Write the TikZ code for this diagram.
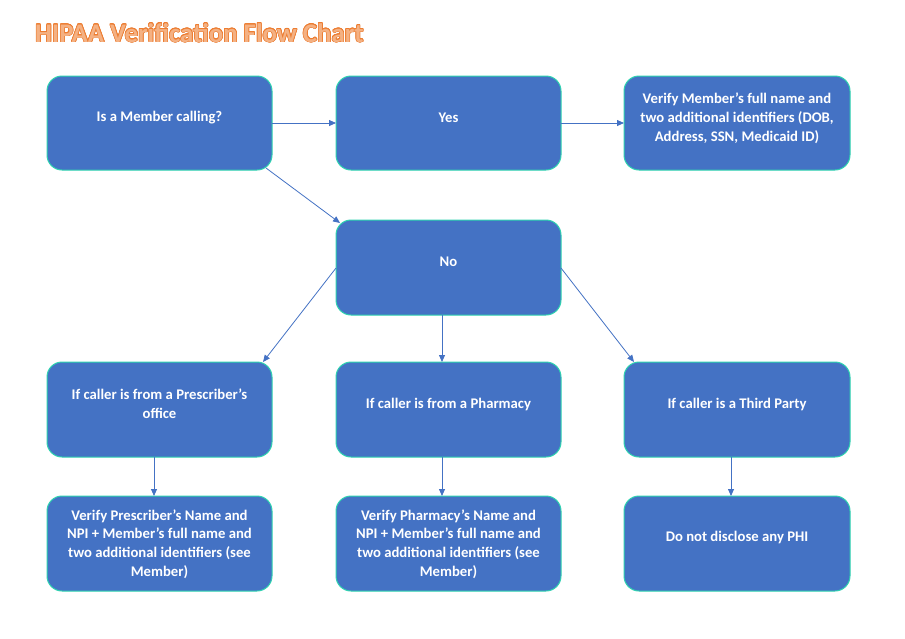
\documentclass[tikz,border=0pt]{standalone}
\usepackage{fontspec}
\setmainfont{Carlito}
\usepackage{contour}
\usetikzlibrary{arrows.meta}
\definecolor{boxblue}{HTML}{4472C4}
\definecolor{boxedge}{HTML}{2ED3B0}
\definecolor{ttlfill}{HTML}{F4B183}
\definecolor{ttledge}{HTML}{ED7D31}
\contourlength{0.6pt}
\begin{document}
\begin{tikzpicture}[x=1pt,y=-1pt,
  fbox/.style={draw=boxedge, line width=1pt, fill=boxblue, rounded corners=15pt},
  ftext/.style={text=white, font=\fontsize{14.7}{18.8}\selectfont\bfseries, align=center, inner sep=0pt},
  farrow/.style={draw=boxblue, line width=0.8pt, -{Triangle[length=7pt,width=6pt]}}]
\useasboundingbox (0,0) rectangle (905,638);
\fill[white] (0,0) rectangle (905,638);
% title
\node[anchor=west, inner sep=0pt, font=\fontsize{26.8}{30}\selectfont\bfseries] (title) at (35,33) {\contour{ttledge}{\textcolor{ttlfill}{HIPAA Verification Flow Chart}}};
% boxes
\path[fbox] (47,76) rectangle (272,170);
\path[fbox] (336,76) rectangle (561,170);
\path[fbox] (624,76) rectangle (850,170);
\path[fbox] (336,220) rectangle (561,315);
\path[fbox] (47,362) rectangle (272,457);
\path[fbox] (336,362) rectangle (561,457);
\path[fbox] (624,362) rectangle (850,457);
\path[fbox] (47,496) rectangle (272,591);
\path[fbox] (336,496) rectangle (561,591);
\path[fbox] (624,496) rectangle (850,591);
% texts
\node[ftext] (t1) at (159.5,117.5) {Is a Member calling?};
\node[ftext] (t2) at (448.5,117.5) {Yes};
\node[ftext] (t3) at (737,118) {Verify Member’s full name and\\two additional identifiers (DOB,\\Address, SSN, Medicaid ID)};
\node[ftext] (t4) at (448.5,261.5) {No};
\node[ftext] (t5) at (159.5,404) {If caller is from a Prescriber’s\\office};
\node[ftext] (t6) at (448.5,404) {If caller is from a Pharmacy};
\node[ftext] (t7) at (737,404.5) {If caller is a Third Party};
\node[ftext] (t8) at (159.5,544) {Verify Prescriber’s Name and\\NPI + Member’s full name and\\two additional identifiers (see\\Member)};
\node[ftext] (t9) at (448.5,544) {Verify Pharmacy’s Name and\\NPI + Member’s full name and\\two additional identifiers (see\\Member)};
\node[ftext] (t10) at (737,537.5) {Do not disclose any PHI};
% connector end points
\coordinate (a1s) at (272,123); \coordinate (a1e) at (336,123);
\coordinate (a2s) at (561,123); \coordinate (a2e) at (624,123);
\coordinate (a3s) at (266,168); \coordinate (a3e) at (340,223);
\coordinate (a4s) at (336,268); \coordinate (a4e) at (263,362);
\coordinate (a5s) at (442,315); \coordinate (a5e) at (442,362);
\coordinate (a6s) at (561,268); \coordinate (a6e) at (634,362);
\coordinate (a7s) at (154,457); \coordinate (a7e) at (154,496);
\coordinate (a8s) at (442,457); \coordinate (a8e) at (442,496);
\coordinate (a9s) at (731,457); \coordinate (a9e) at (731,496);
\draw[farrow] (a1s) -- (a1e);
\draw[farrow] (a2s) -- (a2e);
\draw[farrow] (a3s) -- (a3e);
\draw[farrow] (a4s) -- (a4e);
\draw[farrow] (a5s) -- (a5e);
\draw[farrow] (a6s) -- (a6e);
\draw[farrow] (a7s) -- (a7e);
\draw[farrow] (a8s) -- (a8e);
\draw[farrow] (a9s) -- (a9e);
\end{tikzpicture}
\end{document}
